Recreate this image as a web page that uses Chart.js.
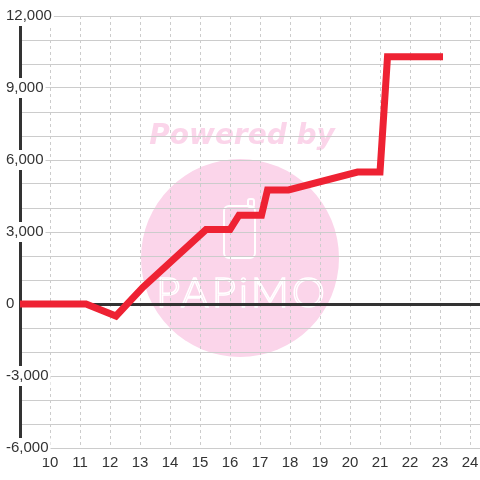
<!DOCTYPE html>
<html>
<head>
  <meta charset="utf-8"/>
  <script src="https://cdn.jsdelivr.net/npm/chart.js"></script>
  <style>
    html, body { margin: 0; padding: 0; background: #ffffff; }
  </style>
</head>
<body>
  <canvas id="myChart" width="480" height="480"></canvas>

  <script>
    // ----------------------------
    // data
    // ----------------------------
    const xValues = [9, 11.2, 12.2, 13.1, 15.2, 16.0, 16.3, 17.05, 17.25, 17.95, 20.25, 21.0, 21.25, 23.1];
    const yValues = [0, 0, -500, 700, 3100, 3100, 3700, 3700, 4750, 4750, 5500, 5500, 10300, 10300];

    const xTicks = [10, 11, 12, 13, 14, 15, 16, 17, 18, 19, 20, 21, 22, 23, 24];
    const yLabelTicks = [-6000, -3000, 0, 3000, 6000, 9000, 12000];

    const points = xValues.map((x, i) => ({ x: x, y: yValues[i] }));

    // pink "Powered by PAPiMO" watermark behind the grid
    const watermark = {
      id: "watermark",
      beforeDraw(chart) {
        const c = chart.ctx;
        c.save();
        c.fillStyle = "#fbd5ea";
        c.beginPath();
        c.arc(240, 258, 99, 0, Math.PI * 2);
        c.fill();

        c.font = "italic bold 28px 'DejaVu Sans'";
        c.textAlign = "center";
        c.textBaseline = "alphabetic";
        c.fillText("Powered by", 242, 144);

        // phone icon
        c.strokeStyle = "#ffffff";
        c.lineWidth = 2;
        c.beginPath();
        c.roundRect(224, 206, 31, 52, 5);
        c.stroke();
        c.beginPath();
        c.roundRect(248, 199, 6, 8, 2);
        c.stroke();

        c.lineWidth = 1.5;
        c.font = "300 42px Lato";
        c.letterSpacing = "3px";
        c.strokeText("PAPiMO", 242, 307);
        c.restore();
      }
    };

    const ctx = document.getElementById("myChart").getContext("2d");

    const config = {
      type: "line",
      data: {
        datasets: [{
          data: points,
          borderColor: "#ee2233",
          borderWidth: 7,
          borderJoinStyle: "miter",
          borderCapStyle: "butt",
          pointRadius: 0,
          tension: 0,
          fill: false
        }]
      },
      options: {
        responsive: false,
        animation: false,
        devicePixelRatio: 1,
        layout: { padding: { left: 20, top: 16, right: 0, bottom: 2 } },
        plugins: { legend: { display: false }, tooltip: { enabled: false } },
        scales: {
          x: {
            type: "linear",
            min: 9,
            max: 24.333,
            afterBuildTicks(scale) {
              scale.ticks = xTicks.map(v => ({ value: v }));
            },
            afterFit(scale) {
              scale.paddingLeft = 0;
              scale.paddingRight = 0;
            },
            grid: { color: "#cccccc", lineWidth: 1, drawTicks: false },
            border: { display: false, dash: [3, 3] },
            ticks: {
              padding: 6,
              color: "#333333",
              font: { family: "'Liberation Sans', Arial", size: 15 },
              maxRotation: 0,
              autoSkip: false
            }
          },
          y: {
            min: -6000,
            max: 12000,
            afterFit(scale) {
              scale.width = 0;
              scale.paddingTop = 0;
              scale.paddingBottom = 0;
            },
            grid: {
              drawTicks: false,
              color: c => c.tick && c.tick.value === 0 ? "#333333" : "#cccccc",
              lineWidth: c => c.tick && c.tick.value === 0 ? 3 : 1
            },
            border: { display: true, color: "#333333", width: 3 },
            ticks: {
              stepSize: 1000,
              mirror: true,
              padding: -14,
              color: "#333333",
              font: { family: "'Liberation Sans', Arial", size: 15 },
              showLabelBackdrop: true,
              backdropPadding: { left: 2, right: 2, top: 1, bottom: 1 },
              backdropColor: c => yLabelTicks.includes(c.tick.value) ? "#ffffff" : "rgba(0,0,0,0)",
              callback: v => yLabelTicks.includes(v) ? v.toLocaleString("en-US") : ""
            }
          }
        }
      },
      plugins: [watermark]
    };

    new Chart(ctx, config);
  </script>
</body>
</html>
